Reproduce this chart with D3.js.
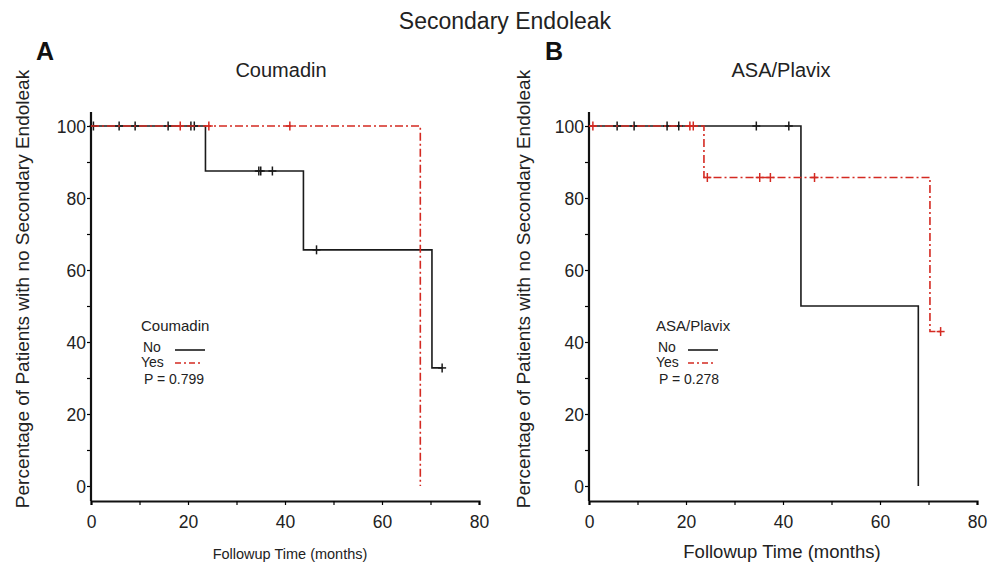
<!DOCTYPE html>
<html>
<head>
<meta charset="utf-8">
<script src="https://cdn.jsdelivr.net/npm/d3@7"></script>
<style>
  body { margin: 0; background: #fff; }
  svg { font-family: "Liberation Sans", Arial, Helvetica, sans-serif; }
</style>
</head>
<body>
<svg id="chart" width="1000" height="566"></svg>
<script>
// ---- data (months, % free of secondary endoleak) ----
var xTicks = [0, 10, 20, 30, 40, 50, 60, 70, 80]
var yTicks = [0, 10, 20, 30, 40, 50, 60, 70, 80, 90, 100]

// Panel A: Coumadin
var coumNoTimes   = [0, 23.6, 43.8, 70.3, 72.4]
var coumNoSurv    = [100, 87.5, 65.6, 32.8, 32.8]
var coumNoCensor  = [0.5, 5.8, 9.1, 15.9, 20.6, 21.3, 34.6, 35.0, 37.4, 46.5, 72.4]
var coumYesTimes  = [0, 67.9, 67.9]
var coumYesSurv   = [100, 0, 0]
var coumYesCensor = [18.4, 24.3, 41.0]

// Panel B: ASA/Plavix
var asaNoTimes   = [0, 43.7, 67.9, 67.9]
var asaNoSurv    = [100, 50, 0, 0]
var asaNoCensor  = [5.8, 9.3, 16.1, 18.5, 34.5, 41.2]
var asaYesTimes  = [0, 23.7, 70.3, 72.5]
var asaYesSurv   = [100, 85.7, 42.9, 42.9]
var asaYesCensor = [0.8, 20.8, 21.5, 24.4, 35.2, 37.4, 46.5, 72.5]

var red = "#d42a22"
var dash = "8,3,2,3"

var svg = d3.select("#chart")

svg.append("text")
  .attr("x", 505).attr("y", 29)
  .attr("text-anchor", "middle")
  .style("font-size", "23px").style("fill", "#222")
  .text("Secondary Endoleak")

// value of a step curve at time t
var stepAt = function(times, surv, t) {
  var v = surv[0]
  for (var i = 0; i < times.length; i++) { if (times[i] <= t) v = surv[i] }
  return v
}

var drawPanel = function(p) {
  var xScale = d3.scaleLinear().domain([0, 80]).range([p.x0, p.x0 + 388])
  var yScale = d3.scaleLinear().domain([0, 100]).range([486, 126])
  var g = svg.append("g")

  // axes
  var xAxis = d3.axisBottom(xScale).tickValues(xTicks).tickSizeOuter(0).tickSize(4)
    .tickFormat(function(d) { return d % 20 === 0 ? d : "" })
  var gx = g.append("g").attr("transform", "translate(0,501)").call(xAxis)
  gx.select(".domain").attr("stroke-width", 2.2).attr("stroke", "#111")
  gx.selectAll(".tick line").attr("stroke-width", 1.2)
  gx.selectAll(".tick text").attr("dy", null).attr("y", 27)
    .style("font-size", "17.5px").style("fill", "#222").style("font-family", "inherit")

  var yAxis = d3.axisLeft(yScale).tickValues(yTicks).tickSize(4)
    .tickFormat(function(d) { return d % 20 === 0 ? d : "" })
  var gy = g.append("g").attr("transform", "translate(" + p.x0 + ",0)").call(yAxis)
  gy.select(".domain").remove()
  gy.append("line")
    .attr("x1", 0).attr("x2", 0)
    .attr("y1", yScale(-4.2)).attr("y2", yScale(103.9))
    .attr("stroke", "#111").attr("stroke-width", 2.2)
  gy.selectAll(".tick line").attr("stroke-width", 1.2)
  gy.selectAll(".tick text").attr("x", -5).attr("dy", "0.35em")
    .style("font-size", "17.5px").style("fill", "#222").style("font-family", "inherit")

  // labels
  g.append("text")
    .attr("x", p.letterX).attr("y", 60)
    .style("font-size", "25px").style("font-weight", "bold").style("fill", "#111")
    .text(p.letter)
  g.append("text")
    .attr("x", p.titleX).attr("y", 77)
    .attr("text-anchor", "middle")
    .style("font-size", "20px").style("fill", "#222")
    .text(p.title)
  g.append("text")
    .attr("transform", "translate(" + p.yLabX + ",289) rotate(-90)")
    .attr("text-anchor", "middle")
    .style("font-size", "19px").style("fill", "#222")
    .text("Percentage of Patients with no Secondary Endoleak")
  g.append("text")
    .attr("x", p.xLabX).attr("y", p.xLabY)
    .attr("text-anchor", "middle")
    .style("font-size", p.xLabSize).style("fill", "#222")
    .text("Followup Time (months)")

  var line = d3.line()
    .x(function(d) { return xScale(d[0]) })
    .y(function(d) { return yScale(d[1]) })
    .curve(d3.curveStepAfter)

  var series = [
    { times: p.noTimes, surv: p.noSurv, censor: p.noCensor, color: "#1a1a1a", dash: null },
    { times: p.yesTimes, surv: p.yesSurv, censor: p.yesCensor, color: red, dash: dash }
  ]

  series.forEach(function(s) {
    var pts = s.times.map(function(t, i) { return [t, s.surv[i]] })
    g.append("path")
      .attr("d", line(pts))
      .attr("fill", "none")
      .attr("stroke", s.color)
      .attr("stroke-width", 1.6)
      .attr("stroke-dasharray", s.dash)

    var marks = g.selectAll(null)
      .data(s.censor)
      .enter()
      .append("g")
        .attr("transform", function(d) {
          return "translate(" + xScale(d) + "," + yScale(stepAt(s.times, s.surv, d)) + ")"
        })
    marks.append("line")
      .attr("x1", 0).attr("x2", 0).attr("y1", -4.5).attr("y2", 4.5)
      .attr("stroke", s.color).attr("stroke-width", 1.5)
    marks.append("line")
      .attr("x1", -4).attr("x2", 4).attr("y1", 0).attr("y2", 0)
      .attr("stroke", s.color).attr("stroke-width", 1.5)
  })

  // legend
  var lg = g.append("g").attr("transform", "translate(" + p.legX + ",0)")
  lg.append("text").attr("x", 0).attr("y", 331)
    .style("font-size", "15px").style("fill", "#222").text(p.title)
  lg.append("text").attr("x", 2).attr("y", 352)
    .style("font-size", "14px").style("fill", "#222").text("No")
  lg.append("text").attr("x", 0).attr("y", 367)
    .style("font-size", "14px").style("fill", "#222").text("Yes")
  lg.append("text").attr("x", 3).attr("y", 384)
    .style("font-size", "14px").style("fill", "#222").text(p.pText)
  lg.append("line").attr("x1", p.legLine0).attr("x2", p.legLine0 + 30)
    .attr("y1", 350).attr("y2", 350)
    .attr("stroke", "#1a1a1a").attr("stroke-width", 1.6)
  lg.append("line").attr("x1", p.legLine0).attr("x2", p.legLine0 + 28)
    .attr("y1", 363).attr("y2", 363)
    .attr("stroke", red).attr("stroke-width", 1.4).attr("stroke-dasharray", "6,3,2,3")
}

drawPanel({
  x0: 91, letter: "A", letterX: 36, title: "Coumadin", titleX: 281,
  yLabX: 29, xLabX: 290, xLabY: 559, xLabSize: "14.5px",
  legX: 141, legLine0: 34, pText: "P = 0.799",
  noTimes: coumNoTimes, noSurv: coumNoSurv, noCensor: coumNoCensor,
  yesTimes: coumYesTimes, yesSurv: coumYesSurv, yesCensor: coumYesCensor
})

drawPanel({
  x0: 589, letter: "B", letterX: 545, title: "ASA/Plavix", titleX: 781,
  yLabX: 530, xLabX: 782, xLabY: 558, xLabSize: "18.5px",
  legX: 656, legLine0: 32, pText: "P = 0.278",
  noTimes: asaNoTimes, noSurv: asaNoSurv, noCensor: asaNoCensor,
  yesTimes: asaYesTimes, yesSurv: asaYesSurv, yesCensor: asaYesCensor
})
</script>
</body>
</html>
